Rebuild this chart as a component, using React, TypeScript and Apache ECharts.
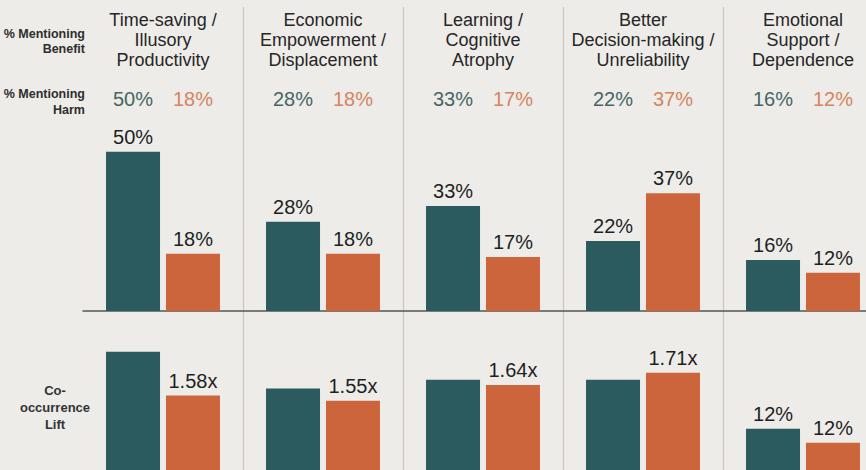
import React, { useEffect, useRef } from "react";
import * as echarts from "echarts";

const categories = [
  "Time-saving /\nIllusory\nProductivity",
  "Economic\nEmpowerment /\nDisplacement",
  "Learning /\nCognitive\nAtrophy",
  "Better\nDecision-making /\nUnreliability",
  "Emotional\nSupport /\nDependence",
];
const benefitPct = [50, 28, 33, 22, 16];
const harmPct = [18, 18, 17, 37, 12];
const benefitLift = [1.83, 1.62, 1.67, 1.67, 1.39];
const harmLift = [1.58, 1.55, 1.64, 1.71, 1.31];
const benefitLiftLabels = ["", "", "", "", "12%"];
const harmLiftLabels = ["1.58x", "1.55x", "1.64x", "1.71x", "12%"];

const TEAL = "#2b5b5e";
const ORANGE = "#cd653c";
const BG = "#edece8";
const FONT = "'Liberation Sans', Arial, sans-serif";

export default function App() {
  const ref = useRef<HTMLDivElement>(null);
  useEffect(() => {
    if (!ref.current) return;
    const chart = echarts.init(ref.current, null, { renderer: "svg" });
    const hiddenCat = (gridIndex: number, extra: any = {}) => ({
      type: "category",
      gridIndex,
      data: categories,
      axisLine: { show: false },
      axisTick: { show: false },
      axisLabel: { show: false },
      splitLine: { show: false },
      ...extra,
    });
    const hiddenVal = (gridIndex: number, min: number, max: number) => ({
      type: "value",
      gridIndex,
      min,
      max,
      show: false,
      splitLine: { show: false },
    });
    const barLabel = {
      show: true,
      position: "top",
      distance: 5,
      fontSize: 20,
      color: "#1f1f1f",
      fontFamily: FONT,
    };
    const g = (top: number, height: number) => ({
      left: 83,
      width: 800,
      top,
      height,
      containLabel: false,
      outerBoundsMode: "none",
    });
    chart.setOption({
      animation: false,
      backgroundColor: BG,
      textStyle: { fontFamily: FONT },
      grid: [g(7, 470), g(72, 1), g(120, 191), g(322, 350)],
      xAxis: [
        hiddenCat(0, {
          splitLine: {
            show: true,
            interval: 0,
            showMinLine: false,
            lineStyle: { color: "#c6c6c2", width: 1.2 },
          },
        }),
        hiddenCat(1, {
          position: "top",
          axisLabel: {
            show: true,
            interval: 0,
            margin: 2,
            fontSize: 18,
            lineHeight: 20,
            color: "#262626",
            fontFamily: FONT,
          },
        }),
        hiddenCat(2, {
          axisLine: { show: true, lineStyle: { color: "#555", width: 1.5 } },
        }),
        hiddenCat(2, {
          position: "top",
          axisLabel: {
            show: true,
            interval: 0,
            margin: 11,
            formatter: (_v: string, i: number) =>
              `{b|${benefitPct[i]}%}{s|}{h|${harmPct[i]}%}`,
            rich: {
              b: { fontSize: 20, lineHeight: 20, color: "#466566", fontFamily: FONT },
              s: { width: 20 },
              h: { fontSize: 20, lineHeight: 20, color: "#d5855f", fontFamily: FONT },
            },
          },
        }),
        hiddenCat(3),
      ],
      yAxis: [
        hiddenVal(0, 0, 1),
        hiddenVal(1, 0, 1),
        hiddenVal(2, 0, 60),
        hiddenVal(3, 0, 2),
      ],
      series: [
        {
          type: "bar",
          xAxisIndex: 2,
          yAxisIndex: 2,
          data: benefitPct,
          barWidth: 54,
          barGap: "11%",
          itemStyle: { color: TEAL },
          label: { ...barLabel, formatter: "{c}%" },
        },
        {
          type: "bar",
          xAxisIndex: 2,
          yAxisIndex: 2,
          data: harmPct,
          barWidth: 54,
          barGap: "11%",
          itemStyle: { color: ORANGE },
          label: { ...barLabel, formatter: "{c}%" },
        },
        {
          type: "bar",
          xAxisIndex: 4,
          yAxisIndex: 3,
          data: benefitLift,
          barWidth: 54,
          barGap: "11%",
          itemStyle: { color: TEAL },
          label: {
            ...barLabel,
            formatter: (p: any) => benefitLiftLabels[p.dataIndex],
          },
        },
        {
          type: "bar",
          xAxisIndex: 4,
          yAxisIndex: 3,
          data: harmLift,
          barWidth: 54,
          barGap: "11%",
          itemStyle: { color: ORANGE },
          label: {
            ...barLabel,
            formatter: (p: any) => harmLiftLabels[p.dataIndex],
          },
        },
      ],
      graphic: [
        {
          type: "text",
          x: 85,
          y: 41,
          style: {
            text: "% Mentioning\nBenefit",
            align: "right",
            verticalAlign: "middle",
            fontSize: 12.5,
            lineHeight: 15,
            fontWeight: "bold",
            fill: "#2e2e2e",
            fontFamily: FONT,
          },
        },
        {
          type: "text",
          x: 85,
          y: 102,
          style: {
            text: "% Mentioning\nHarm",
            align: "right",
            verticalAlign: "middle",
            fontSize: 12.5,
            lineHeight: 16,
            fontWeight: "bold",
            fill: "#2e2e2e",
            fontFamily: FONT,
          },
        },
        {
          type: "text",
          x: 55,
          y: 407,
          style: {
            text: "Co-\noccurrence\nLift",
            align: "center",
            verticalAlign: "middle",
            fontSize: 13,
            lineHeight: 17,
            fontWeight: "bold",
            fill: "#333",
            fontFamily: FONT,
          },
        },
      ],
    });
    return () => chart.dispose();
  }, []);
  return (
    <div
      ref={ref}
      style={{ position: "fixed", left: 0, top: 0, width: 866, height: 470, background: BG }}
    />
  );
}
